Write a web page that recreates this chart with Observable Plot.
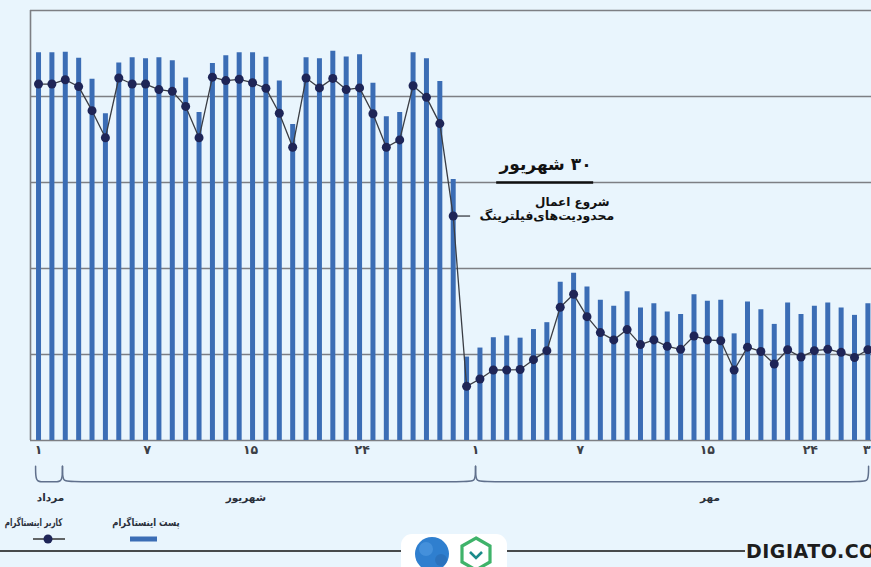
<!DOCTYPE html>
<html>
<head>
<meta charset="utf-8">
<script src="https://cdn.jsdelivr.net/npm/d3@7"></script>
<script src="https://cdn.jsdelivr.net/npm/@observablehq/plot@0.6"></script>
<style>
  html, body { margin: 0; padding: 0; background: #e9f5fd; }
  #wrap { position: relative; width: 871px; height: 567px; overflow: hidden; background: #e9f5fd; font-family: "DejaVu Sans", sans-serif; }
  #chart { position: absolute; left: 0; top: 0; }
  .lg { position: absolute; font-size: 10.5px; font-weight: bold; color: #2a2f3a; direction: rtl; white-space: nowrap; text-align: center; transform-origin: center; }
  #footer { position: absolute; left: 0; top: 505px; }
</style>
</head>
<body>
<div id="wrap">
  <div id="chart"></div>
  <div class="lg" style="left:12px; top:516px; width:60px; transform: scaleX(0.68);">کاربر اینستاگرام</div>
  <div class="lg" style="left:104px; top:516px; width:84px; transform: scaleX(0.8);">پست اینستاگرام</div>
  <svg id="footer" width="871" height="62">
    <line x1="33" x2="65" y1="34" y2="34" stroke="#333" stroke-width="1.5"/>
    <circle cx="48" cy="34" r="4.5" fill="#1e2557"/>
    <rect x="130" y="31.5" width="27" height="5" fill="#3b6db5"/>
    <line x1="0" x2="402" y1="46" y2="46" stroke="#111" stroke-width="1.6"/>
    <line x1="506" x2="745" y1="46" y2="46" stroke="#111" stroke-width="1.6"/>
    <rect x="401" y="29" width="106" height="45" rx="11" fill="#ffffff"/>
    <circle cx="432" cy="49" r="17" fill="#2f7fcf"/>
    <circle cx="426" cy="44" r="7" fill="#4a95dd" opacity="0.8"/>
    <circle cx="441" cy="55" r="6" fill="#2a6fb8" opacity="0.8"/>
    <polygon points="476,33 490,41 490,57 476,65 462,57 462,41" fill="none" stroke="#3fb36a" stroke-width="3.2"/>
    <polyline points="470,47 476,53 482,47" fill="none" stroke="#1a8a8a" stroke-width="2.6"/>
    <text x="746" y="53" font-family="DejaVu Sans" font-weight="bold" font-size="19" fill="#1d1d1d" letter-spacing="0.5">DIGIATO.COM</text>
  </svg>
</div>
<script>
// ---- data ----
const postValues = [90.2,90.2,90.3,88.9,84.0,76.0,87.8,89.0,88.8,89.0,
  88.3,84.3,76.3,87.7,89.5,90.2,90.2,89.1,83.6,73.5,
  89.0,88.8,90.5,89.2,89.7,83.1,75.3,76.3,90.2,88.8,
  83.5,60.7,19.4,21.5,23.9,24.3,23.8,25.8,27.4,36.8,
  38.9,35.7,32.6,31.2,34.6,30.8,31.8,29.9,29.3,33.9,
  32.4,32.6,24.8,32.2,30.4,27.0,32.0,29.3,31.2,32.0,
  30.8,29.1,31.8];
const userValues = [82.9,82.9,83.9,82.3,76.7,70.4,84.3,82.9,82.9,81.6,
  81.2,77.7,70.4,84.5,83.7,84.0,83.2,81.9,76.1,68.2,
  84.3,82.0,84.2,81.6,82.0,76.0,68.2,69.9,82.5,79.8,
  73.7,52.2,12.6,14.3,16.4,16.4,16.5,18.8,20.9,31.0,
  34.0,28.8,25.1,23.4,25.8,22.3,23.4,21.9,21.2,24.3,
  23.4,23.2,16.4,21.7,20.7,17.8,21.1,19.4,20.9,21.2,
  20.5,19.3,21.1];
const tickLabels = ["۱","۷","۱۵","۲۴","۱","۷","۱۵","۲۴","۳۰"];
const tickIndex = [0, 8.13, 15.85, 24.2, 32.67, 40.5, 50.0, 57.7, 62.2];
const monthNames = ["مرداد","شهریور","مهر"];
const monthEdges = [-0.22, 1.79, 32.67, 62.05];
const monthLabelAt = [0.9, 15.5, 50.2];
const gridValues = [0, 20, 40, 60, 80, 100];
const eventIndex = 31;
const eventTitle = "۳۰ شهریور";
const eventLines = ["شروع اعمال", "محدودیت\u200cهای\u200cفیلترینگ"];

const rtl = s => "\u202B" + s + "\u202C";
const days = postValues.map((p, i) => ({i, post: p, user: userValues[i]}));
const ticks = tickIndex.map((x, k) => ({x, label: tickLabels[k]}));

// brace paths built from month edges
const braceTop = -6, braceBot = -9.6;
const braces = [];
monthNames.forEach((m, k) => {
  const a = monthEdges[k], b = monthEdges[k + 1];
  const r = Math.min(0.55, (b - a) / 4);
  [[a, braceTop], [a, braceBot], [a + r, braceBot], [b - r, braceBot], [b, braceBot], [b, braceTop]]
    .forEach(([x, y]) => braces.push({m, x, y}));
});
const months = monthNames.map((m, k) => ({m: rtl(m), x: monthLabelAt[k]}));
const ev = days[eventIndex];

const persian = "DejaVu Sans";
const chart = Plot.plot({
  width: 871, height: 505,
  marginTop: 10, marginBottom: 65, marginLeft: 30, marginRight: 0,
  x: {domain: [-0.6, 62.27], axis: null},
  y: {domain: [0, 100], axis: null},
  style: {background: "transparent", overflow: "visible"},
  marks: [
    Plot.ruleY(gridValues, {stroke: "#7d7f84", strokeWidth: 1.6}),
    Plot.ruleX([-0.6], {y1: 0, y2: 100, stroke: "#7d7f84", strokeWidth: 1.6}),
    Plot.ruleX(days, {x: "i", y1: 0, y2: "post", stroke: "#3b6db5", strokeWidth: 5}),
    Plot.line(days, {x: "i", y: "user", stroke: "#3a3d44", strokeWidth: 1.3}),
    Plot.ruleY([ev], {y: "user", x1: "i", x2: d => d.i + 1.3, stroke: "#3a3d44", strokeWidth: 1.3}),
    Plot.dot(days, {x: "i", y: "user", r: 4.5, fill: "#1e2557"}),
    // annotation
    Plot.text([rtl(eventTitle)], {x: 37.9, y: 64.2, text: d => d, fontSize: 17, fontWeight: "bold", fill: "#111", fontFamily: persian}),
    Plot.ruleY([60], {x1: 34.25, x2: 41.5, stroke: "#111", strokeWidth: 2.4}),
    Plot.text([rtl(eventLines[0])], {x: 39.9, y: 55.4, text: d => d, fontSize: 12, fontWeight: "bold", fill: "#111", fontFamily: persian}),
    Plot.text([rtl(eventLines[1])], {x: 38.0, y: 52.1, text: d => d, fontSize: 12.5, fontWeight: "bold", fill: "#111", fontFamily: persian}),
    // tick labels
    Plot.text(ticks, {x: "x", y: -2.1, text: "label", fontSize: 12.5, fontWeight: "bold", fill: "#3c3f46", fontFamily: persian}),
    // braces
    Plot.line(braces, {x: "x", y: "y", z: "m", curve: "basis", stroke: "#60708c", strokeWidth: 1.5}),
    Plot.text(months, {x: "x", y: -13.3, text: "m", fontSize: 10.5, fontWeight: "bold", fill: "#2a2f3a", fontFamily: persian})
  ]
});
document.getElementById("chart").appendChild(chart);
</script>
</body>
</html>
